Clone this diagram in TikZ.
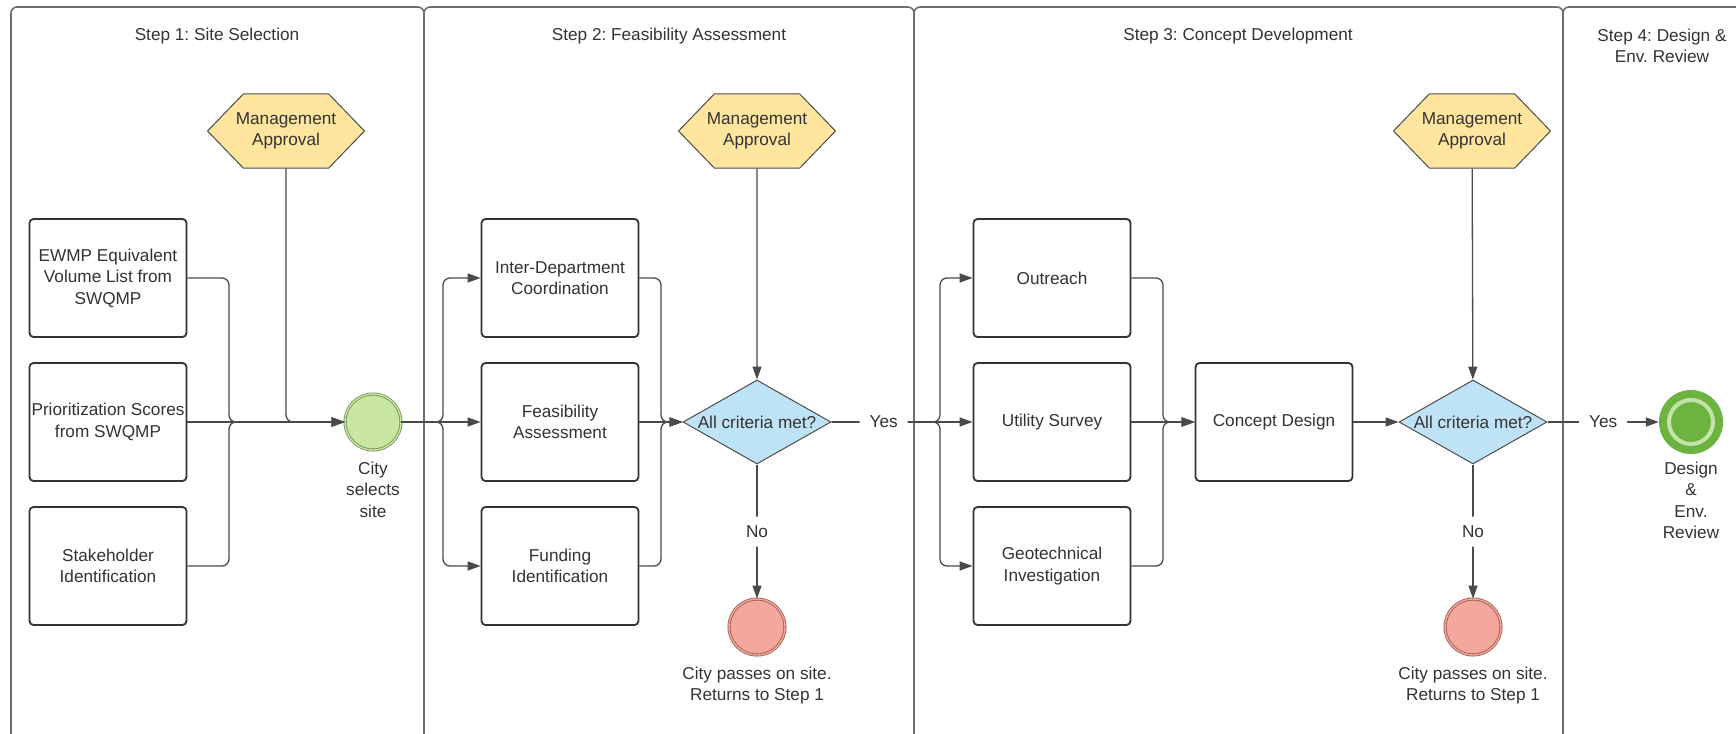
\documentclass[tikz,border=0pt]{standalone}
\usepackage{fontspec}
\setmainfont{Liberation Sans}
\usetikzlibrary{arrows.meta,shapes.geometric,shapes.symbols}
\definecolor{txt}{HTML}{333333}
\definecolor{lanec}{HTML}{6E6E6E}
\definecolor{linec}{HTML}{4A4A4A}
\definecolor{hexc}{HTML}{FFE59E}
\definecolor{diac}{HTML}{BFE3F6}
\definecolor{startc}{HTML}{C9E6A3}
\definecolor{startd}{HTML}{6E8F55}
\definecolor{stopc}{HTML}{F4A79C}
\definecolor{stopd}{HTML}{9A5A50}
\definecolor{endc}{HTML}{6DB33F}
\definecolor{endr}{HTML}{C4E3A8}
\frenchspacing
\begin{document}
\begin{tikzpicture}[x=1pt,y=-1pt,
  font=\fontsize{17.2}{21.5}\selectfont, text=txt,
  lane/.style={draw=lanec,line width=1.6pt,rounded corners=6pt},
  task/.style={draw=black!80,line width=1.8pt,rounded corners=4pt,fill=white,
    minimum width=157pt,minimum height=118pt,align=center,inner sep=1pt},
  approval/.style={signal,signal to=east and west,signal pointer angle=92,
    draw=black!70,line width=1pt,fill=hexc,minimum width=157pt,minimum height=74pt,
    inner xsep=-20pt,align=center},
  check/.style={diamond,draw=black!70,line width=1pt,fill=diac,
    minimum width=148pt,minimum height=84pt,inner sep=0pt},
  start/.style={circle,draw=startd,line width=0.8pt,double=startc,double distance=1.4pt,
    fill=startc,minimum size=56pt},
  stop/.style={circle,draw=stopd,line width=0.8pt,double=stopc,double distance=1.4pt,
    fill=stopc,minimum size=56pt},
  finish/.style={circle,fill=endc,minimum size=64pt,
    path picture={\draw[endr,line width=4pt] (path picture bounding box.center) circle (22pt);}},
  conn/.style={draw=linec,line width=1.3pt,rounded corners=7pt,-{Triangle[length=13pt,width=9pt]}},
  lbl/.style={fill=white,inner xsep=10pt,inner ysep=9pt}]
\useasboundingbox (0,0) rectangle (1736,733);

% lanes
\draw[lane] (11,7) rectangle (424,790);
\draw[lane] (424,7) rectangle (914,790);
\draw[lane] (914,7) rectangle (1563,790);
\draw[lane] (1563,7) rectangle (1800,790);
\node (T1) at (217,36) {Step 1: Site Selection};
\node (T2) at (669,36) {Step 2: Feasibility Assessment};
\node (T3) at (1238,36) {Step 3: Concept Development};
\node[align=center] (T4) at (1662,46) {Step 4: Design \&\\Env. Review};

% step 1
\node[approval] (MA1) at (286,131) {Management\\Approval};
\node[task] (EW) at (108,278) {EWMP Equivalent\\Volume List from\\SWQMP};
\node[task] (PS) at (108,422) {Prioritization Scores\\from SWQMP};
\node[task] (SI) at (108,566) {Stakeholder\\Identification};
\node[start,label={[align=center,label distance=8pt]below:City\\selects\\site}] (CS) at (373,422) {};
\coordinate (M1) at (229,422);
\draw[conn] (EW.east) -| (M1) -- (CS.west);
\draw[conn] (SI.east) -| (M1) -- (CS.west);
\draw[conn] (MA1.south) |- (CS.west);
\draw[conn] (PS) to (CS);

% step 2
\node[task] (ID) at (560,278) {Inter-Department\\Coordination};
\node[task] (FA) at (560,422) {Feasibility\\Assessment};
\node[task] (FI) at (560,566) {Funding\\Identification};
\coordinate (S2) at (443,422);
\draw[conn] (CS.east) -- (S2) |- (ID.west);
\draw[conn] (CS.east) -- (S2) |- (FI.west);
\draw[conn] (CS) to (FA);
\node[approval] (MA2) at (757,131) {Management\\Approval};
\node[check,label=center:All criteria met?] (D1) at (757,422) {};
\coordinate (M2) at (661,422);
\draw[conn] (ID.east) -| (M2) -- (D1.west);
\draw[conn] (FI.east) -| (M2) -- (D1.west);
\draw[conn] (FA) to (D1);
\draw[conn] (MA2) to (D1);
\node[stop,label={[align=center,label distance=8pt]below:City passes on site.\\Returns to Step 1}] (R1) at (757,627) {};
\draw[conn] (D1) to node[lbl]{No} (R1);

% step 3
\node[task] (OR) at (1052,278) {Outreach};
\node[task] (US) at (1052,422) {Utility Survey};
\node[task] (GI) at (1052,566) {Geotechnical\\Investigation};
\coordinate (S3) at (940,422);
\draw[conn] (D1.east) -- (S3) |- (OR.west);
\draw[conn] (D1.east) -- (S3) |- (GI.west);
\draw[conn] (D1.east) -- node[lbl,pos=0.37]{Yes} (US.west);
\node[task] (CD) at (1274,422) {Concept Design};
\coordinate (M3) at (1163,422);
\draw[conn] (OR.east) -| (M3) -- (CD.west);
\draw[conn] (GI.east) -| (M3) -- (CD.west);
\draw[conn] (US) to (CD);
\node[approval] (MA3) at (1472,131) {Management\\Approval};
\node[check,label=center:All criteria met?] (D2) at (1473,422) {};
\draw[conn] (CD) to (D2);
\draw[conn] (MA3) to (D2);
\node[stop,label={[align=center,label distance=8pt]below:City passes on site.\\Returns to Step 1}] (R2) at (1473,627) {};
\draw[conn] (D2) to node[lbl]{No} (R2);

% step 4
\node[finish,label={[align=center,label distance=4pt]below:Design\\\&\\Env.\\Review}] (DE) at (1691,422) {};
\draw[conn] (D2) to node[lbl]{Yes} (DE);
\end{tikzpicture}
\end{document}
